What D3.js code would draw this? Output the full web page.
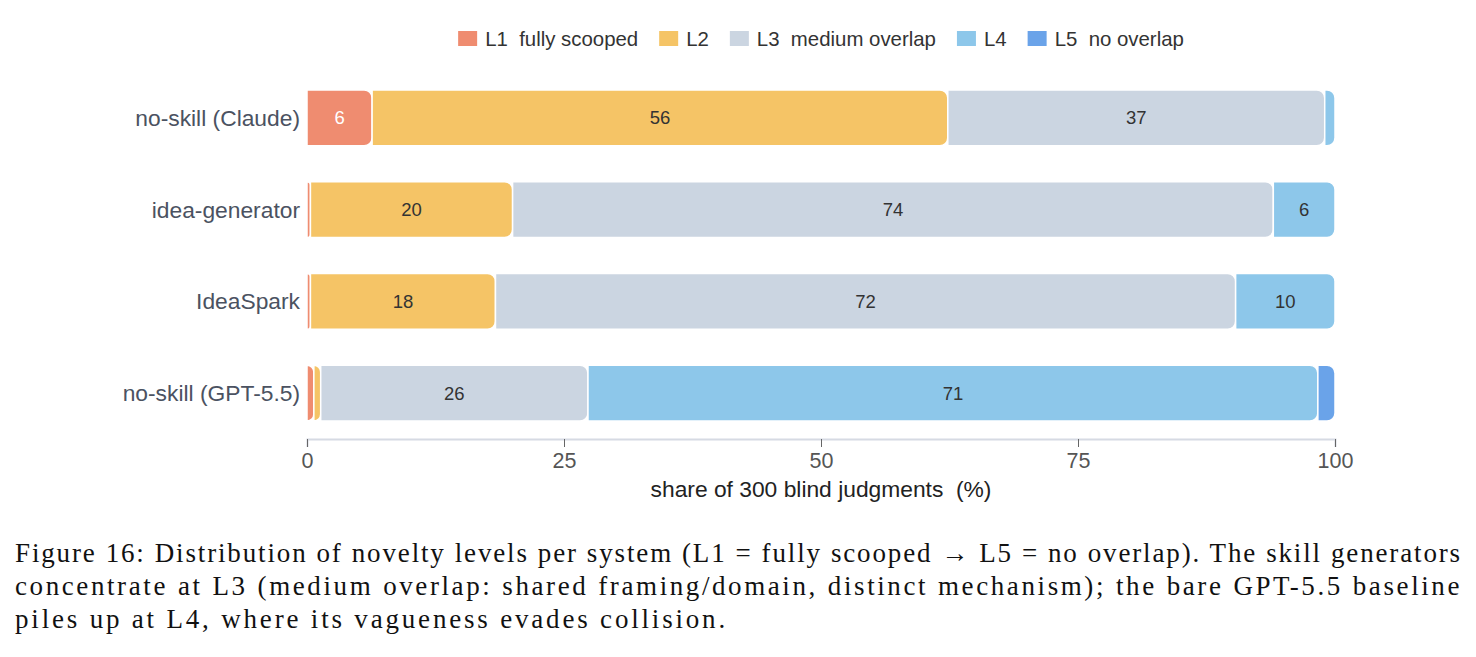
<!DOCTYPE html>
<html>
<head>
<meta charset="utf-8">
<title>Novelty levels per system</title>
<script src="https://cdn.jsdelivr.net/npm/d3@7"></script>
<style>
    body { margin: 0; background: #fff; width: 1476px; height: 657px; overflow: hidden; position: relative; }
    svg text { font-family: "Liberation Sans", Arial, sans-serif; }
    .caption { position: absolute; left: 15px; top: 537px; width: 1447px;
               font-family: "Liberation Serif", "Times New Roman", serif; font-size: 27px;
               line-height: 33px; color: #111; }
    .caption div { text-align: left; white-space: nowrap; }
</style>
</head>
<body>
<script>
// counts out of 300 blind judgments
let systems = ["no-skill (Claude)", "idea-generator", "IdeaSpark", "no-skill (GPT-5.5)"]
let levels = ["L1  fully scooped", "L2", "L3  medium overlap", "L4", "L5  no overlap"]
let colors = ["#ef8c70", "#f5c466", "#cbd5e1", "#8dc7ea", "#6aa3e9"]
let l1 = [19, 1, 1, 2]
let l2 = [168, 59, 54, 2]
let l3 = [110, 222, 216, 78]
let l4 = [3, 18, 29, 213]
let l5 = [0, 0, 0, 5]
let total = 300
let xticks = [0, 25, 50, 75, 100]

let w = 1476
let h = 530
let series = [l1, l2, l3, l4, l5]

let svg = d3.select("body").append("svg")
            .attr("width", w)
            .attr("height", h)
            .style("position", "absolute").style("left", 0).style("top", 0)

let x = d3.scaleLinear().domain([0, 100]).range([307, 1335])
let y = d3.scaleBand().domain(systems).range([72, 439]).paddingInner(0.39).paddingOuter(0.195)

// rect with rounded right corners only
function seg(x0, x1, y0, bh, r) {
    let wd = x1 - x0
    r = Math.min(r, wd, bh / 2)
    return "M" + x0 + "," + y0 +
           "H" + (x1 - r) +
           "A" + r + "," + r + " 0 0 1 " + x1 + "," + (y0 + r) +
           "V" + (y0 + bh - r) +
           "A" + r + "," + r + " 0 0 1 " + (x1 - r) + "," + (y0 + bh) +
           "H" + x0 + "Z"
}

systems.forEach((s, i) => {
    let acc = 0
    series.forEach((vals, k) => {
        let pct = vals[i] / total * 100
        if (pct <= 0) return
        let x0 = x(acc), x1 = x(acc + pct)
        svg.append("path")
           .attr("d", seg(x0, x1, y(s), y.bandwidth(), 8))
           .attr("fill", colors[k])
           .attr("stroke", "#fff")
           .attr("stroke-width", 1.5)
        if (pct >= 4) {
            svg.append("text")
               .attr("x", (x0 + x1) / 2)
               .attr("y", y(s) + y.bandwidth() / 2)
               .attr("dy", "0.35em")
               .attr("text-anchor", "middle")
               .attr("font-size", 18.5)
               .attr("fill", k === 0 ? "#fff" : "#333")
               .text(Math.round(pct))
        }
        acc += pct
    })
})

// category labels
svg.selectAll(".cat")
   .data(systems)
   .enter()
   .append("text")
   .attr("x", 300)
   .attr("y", (d) => y(d) + y.bandwidth() / 2)
   .attr("dy", "0.35em")
   .attr("text-anchor", "end")
   .attr("font-size", 22.8)
   .attr("fill", "#4b5261")
   .text((d) => d)

// x axis
let xAxis = d3.axisBottom(x).tickValues(xticks).tickSize(8).tickPadding(6)
let ax = svg.append("g")
            .attr("transform", "translate(0,439)")
            .call(xAxis)
ax.select(".domain").attr("stroke", "#d6dae3").attr("stroke-width", 2)
ax.selectAll(".tick line").attr("stroke", "#666").attr("stroke-width", 1)
ax.selectAll(".tick text").attr("font-size", 21.5).attr("fill", "#555")
  .style("font-family", "'Liberation Sans', Arial, sans-serif")

svg.append("text")
   .attr("x", x(50))
   .attr("y", 497)
   .attr("text-anchor", "middle")
   .attr("font-size", 22.8)
   .attr("fill", "#222")
   .style("white-space", "pre")
   .text("share of 300 blind judgments  (%)")

// legend, centred over the plot
let lg = svg.append("g")
let lx = 0
levels.forEach((name, k) => {
    let item = lg.append("g").attr("transform", "translate(" + lx + ",0)")
    item.append("rect").attr("x", 0).attr("y", 31).attr("width", 19).attr("height", 15)
        .attr("fill", colors[k])
    let t = item.append("text").attr("x", 27).attr("y", 38.5).attr("dy", "0.35em")
        .attr("font-size", 20.4).attr("fill", "#333")
        .style("white-space", "pre")
        .text(name)
    lx += 27 + t.node().getComputedTextLength() + 21
})
let lw = lx - 21
lg.attr("transform", "translate(" + (x(50) - lw / 2) + ",0)")
</script>
<div class="caption" id="cap">
    <div><span>Figure 16: Distribution of novelty levels per system (L1 = fully scooped → L5 = no overlap). The skill generators</span></div>
    <div><span>concentrate at L3 (medium overlap: shared framing/domain, distinct mechanism); the bare GPT-5.5 baseline</span></div>
    <div><span>piles up at L4, where its vagueness evades collision.</span></div>
</div>
<script>
// fit each caption line by letter spacing so word gaps stay normal,
// then justify the two full lines
let targets = [1440, 1440, 713]
let spans = d3.selectAll("#cap span").nodes()
let widths = spans.map((s) => s.getBoundingClientRect().width)
spans.forEach((s, i) => {
    let n = s.textContent.length
    let ls = Math.max(0, (targets[i] - widths[i]) / n)
    let line = d3.select(s.parentNode).style("letter-spacing", ls + "px")
    if (i < 2) line.style("text-align", "justify").style("text-align-last", "justify")
})
</script>
</body>
</html>
